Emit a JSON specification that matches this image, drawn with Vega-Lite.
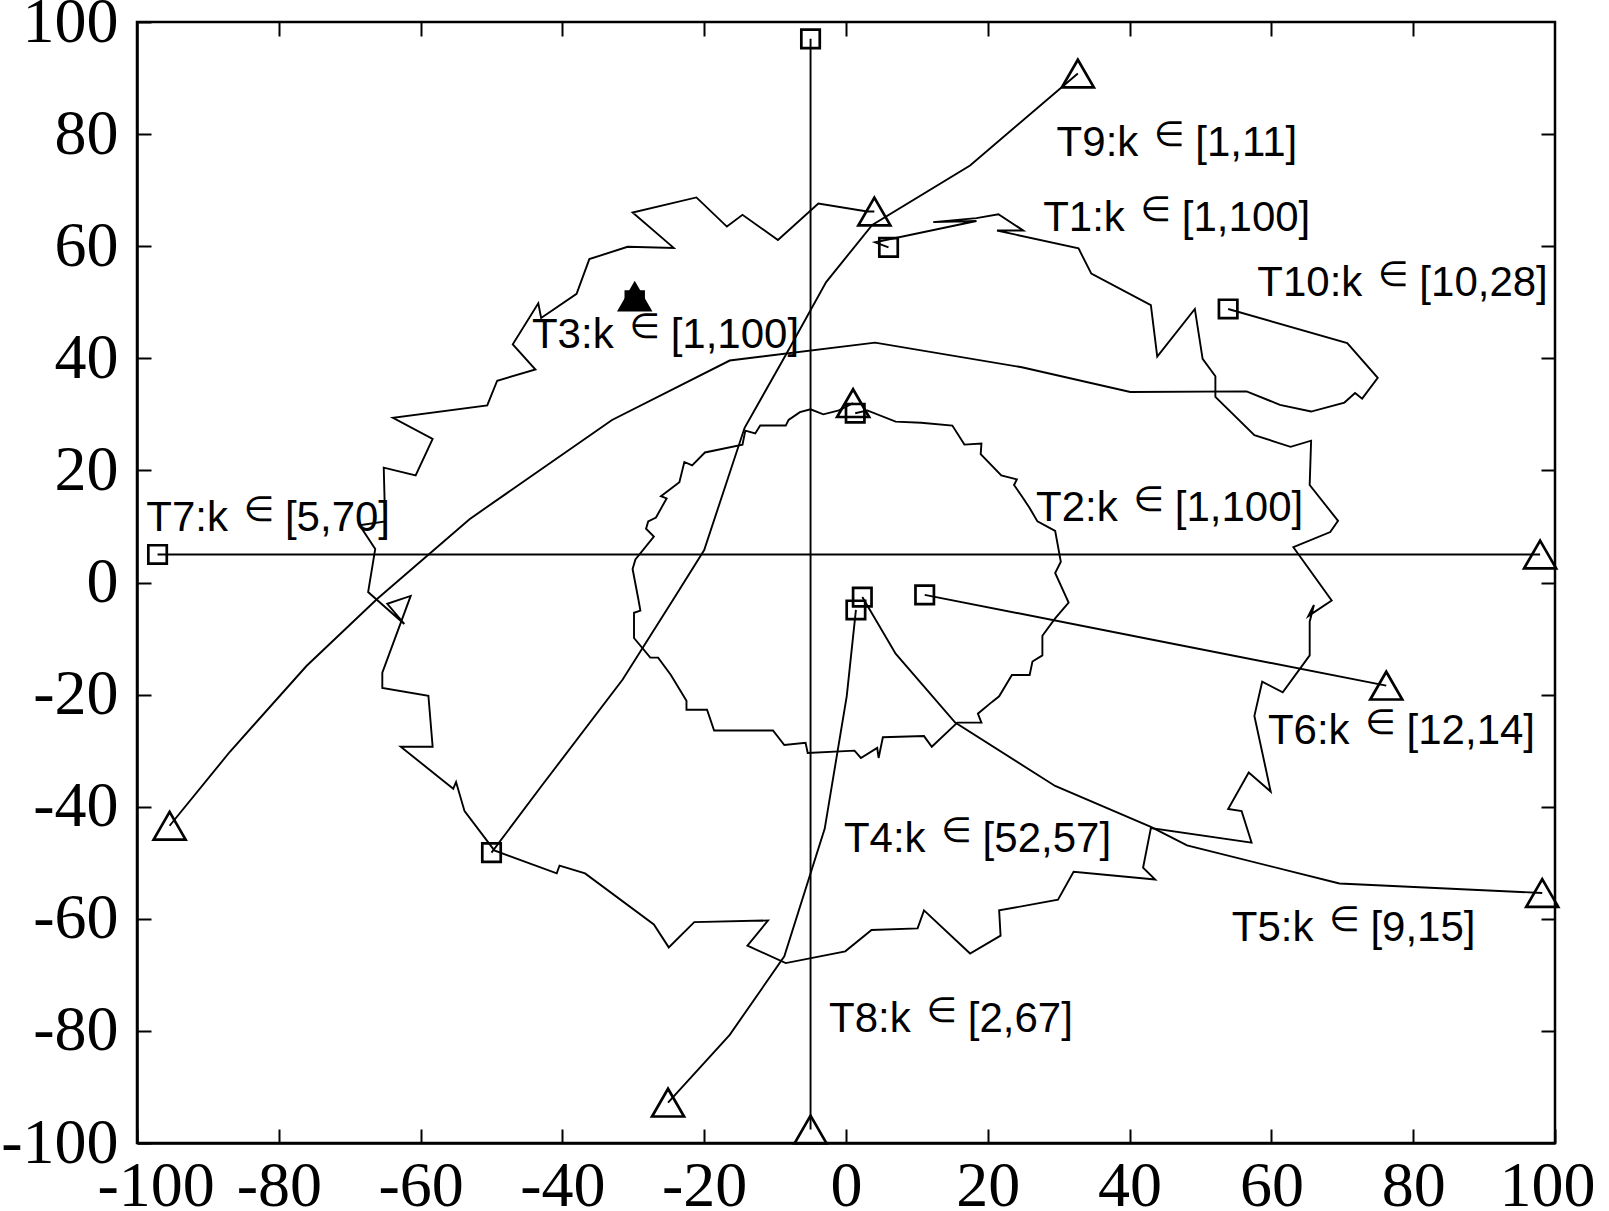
{
  "$schema": "https://vega.github.io/schema/vega-lite/v6.json",
  "width": 1418,
  "height": 1121,
  "autosize": {"type": "none"},
  "padding": {"left": 137, "top": 22, "right": 54, "bottom": 68},
  "background": "white",
  "config": {
    "view": {"stroke": "black", "strokeWidth": 2.5},
    "axis": {
      "domainColor": "black", "domainWidth": 2.5,
      "tickColor": "black", "tickWidth": 2, "tickSize": -14,
      "labelFont": "Liberation Serif", "labelFontSize": 64, "labelColor": "black",
      "grid": false, "title": null
    }
  },
  "datasets": {
    "tracks": [
      {"t":"T1","i":1,"x":6.0,"y":59.8},{"t":"T1","i":2,"x":4.1,"y":60.7},{"t":"T1","i":3,"x":18.4,"y":64.5},{"t":"T1","i":4,"x":12.3,"y":64.3},{"t":"T1","i":5,"x":18.4,"y":65.0},{"t":"T1","i":6,"x":21.5,"y":65.7},{"t":"T1","i":7,"x":25.0,"y":62.8},{"t":"T1","i":8,"x":21.3,"y":62.8},{"t":"T1","i":9,"x":32.8,"y":59.6},{"t":"T1","i":10,"x":34.6,"y":55.1},
      {"t":"T1","i":11,"x":43.0,"y":49.5},{"t":"T1","i":12,"x":43.9,"y":40.3},{"t":"T1","i":13,"x":49.2,"y":48.8},{"t":"T1","i":14,"x":50.3,"y":39.9},{"t":"T1","i":15,"x":52.1,"y":36.8},{"t":"T1","i":16,"x":52.1,"y":33.1},{"t":"T1","i":17,"x":57.6,"y":26.3},{"t":"T1","i":18,"x":62.7,"y":24.2},{"t":"T1","i":19,"x":65.6,"y":25.3},{"t":"T1","i":20,"x":65.4,"y":17.4},
      {"t":"T1","i":21,"x":69.4,"y":11.0},{"t":"T1","i":22,"x":68.3,"y":9.0},{"t":"T1","i":23,"x":63.1,"y":6.3},{"t":"T1","i":24,"x":68.5,"y":-3.2},{"t":"T1","i":25,"x":65.2,"y":-6.0},{"t":"T1","i":26,"x":66.0,"y":-4.0},{"t":"T1","i":27,"x":65.4,"y":-7.0},{"t":"T1","i":28,"x":65.4,"y":-13.0},{"t":"T1","i":29,"x":61.6,"y":-19.6},{"t":"T1","i":30,"x":58.7,"y":-17.7},
      {"t":"T1","i":31,"x":57.6,"y":-23.8},{"t":"T1","i":32,"x":59.9,"y":-37.3},{"t":"T1","i":33,"x":56.8,"y":-33.9},{"t":"T1","i":34,"x":53.9,"y":-40.4},{"t":"T1","i":35,"x":55.8,"y":-40.8},{"t":"T1","i":36,"x":57.2,"y":-46.4},{"t":"T1","i":37,"x":43.0,"y":-43.8},{"t":"T1","i":38,"x":41.9,"y":-50.9},{"t":"T1","i":39,"x":43.6,"y":-53.0},{"t":"T1","i":40,"x":32.1,"y":-51.6},
      {"t":"T1","i":41,"x":29.9,"y":-56.6},{"t":"T1","i":42,"x":21.6,"y":-58.5},{"t":"T1","i":43,"x":21.8,"y":-63.0},{"t":"T1","i":44,"x":17.5,"y":-66.2},{"t":"T1","i":45,"x":11.0,"y":-58.5},{"t":"T1","i":46,"x":10.1,"y":-61.7},{"t":"T1","i":47,"x":3.6,"y":-62.0},{"t":"T1","i":48,"x":-0.1,"y":-65.8},{"t":"T1","i":49,"x":-8.5,"y":-67.9},{"t":"T1","i":50,"x":-13.9,"y":-64.8},
      {"t":"T1","i":51,"x":-11.0,"y":-60.3},{"t":"T1","i":52,"x":-21.4,"y":-60.6},{"t":"T1","i":53,"x":-25.0,"y":-65.1},{"t":"T1","i":54,"x":-27.1,"y":-61.0},{"t":"T1","i":55,"x":-36.8,"y":-51.9},{"t":"T1","i":56,"x":-40.4,"y":-50.5},{"t":"T1","i":57,"x":-40.8,"y":-51.9},{"t":"T1","i":58,"x":-49.6,"y":-47.8},{"t":"T1","i":59,"x":-53.8,"y":-40.8},{"t":"T1","i":60,"x":-55.0,"y":-35.6},
      {"t":"T1","i":61,"x":-55.4,"y":-36.8},{"t":"T1","i":62,"x":-62.8,"y":-29.3},{"t":"T1","i":63,"x":-58.3,"y":-29.3},{"t":"T1","i":64,"x":-58.9,"y":-20.2},{"t":"T1","i":65,"x":-65.4,"y":-18.8},{"t":"T1","i":66,"x":-65.4,"y":-16.1},{"t":"T1","i":67,"x":-61.4,"y":-2.4},{"t":"T1","i":68,"x":-64.7,"y":-3.8},{"t":"T1","i":69,"x":-62.3,"y":-7.4},{"t":"T1","i":70,"x":-67.4,"y":-1.7},
      {"t":"T1","i":71,"x":-66.4,"y":6.0},{"t":"T1","i":72,"x":-68.6,"y":10.2},{"t":"T1","i":73,"x":-65.0,"y":10.9},{"t":"T1","i":74,"x":-65.2,"y":20.5},{"t":"T1","i":75,"x":-60.7,"y":19.1},{"t":"T1","i":76,"x":-58.3,"y":25.6},{"t":"T1","i":77,"x":-63.9,"y":29.4},{"t":"T1","i":78,"x":-50.6,"y":31.6},{"t":"T1","i":79,"x":-49.2,"y":36.0},{"t":"T1","i":80,"x":-43.8,"y":38.0},
      {"t":"T1","i":81,"x":-47.0,"y":42.5},{"t":"T1","i":82,"x":-43.4,"y":49.8},{"t":"T1","i":83,"x":-43.0,"y":47.2},{"t":"T1","i":84,"x":-38.0,"y":51.5},{"t":"T1","i":85,"x":-36.2,"y":57.7},{"t":"T1","i":86,"x":-30.8,"y":59.9},{"t":"T1","i":87,"x":-24.3,"y":59.7},{"t":"T1","i":88,"x":-30.1,"y":66.0},{"t":"T1","i":89,"x":-21.1,"y":68.7},{"t":"T1","i":90,"x":-16.8,"y":63.5},
      {"t":"T1","i":91,"x":-14.6,"y":65.6},{"t":"T1","i":92,"x":-9.6,"y":61.1},{"t":"T1","i":93,"x":-3.9,"y":67.6},{"t":"T1","i":94,"x":3.0,"y":66.2},{"t":"T1","i":95,"x":4.0,"y":66.2},

      {"t":"T2","i":1,"x":1.3,"y":30.2},{"t":"T2","i":2,"x":3.0,"y":30.7},{"t":"T2","i":3,"x":7.0,"y":28.7},{"t":"T2","i":4,"x":10.6,"y":28.5},{"t":"T2","i":5,"x":15.0,"y":28.0},{"t":"T2","i":6,"x":16.7,"y":24.6},{"t":"T2","i":7,"x":19.1,"y":24.8},{"t":"T2","i":8,"x":19.0,"y":22.9},{"t":"T2","i":9,"x":21.9,"y":19.1},{"t":"T2","i":10,"x":24.1,"y":18.4},
      {"t":"T2","i":11,"x":23.7,"y":17.4},{"t":"T2","i":12,"x":24.8,"y":15.4},{"t":"T2","i":13,"x":25.9,"y":13.3},{"t":"T2","i":14,"x":27.0,"y":10.9},{"t":"T2","i":15,"x":29.5,"y":9.2},{"t":"T2","i":16,"x":30.3,"y":3.7},{"t":"T2","i":17,"x":29.5,"y":1.7},{"t":"T2","i":18,"x":31.4,"y":-3.6},{"t":"T2","i":19,"x":29.5,"y":-6.4},{"t":"T2","i":20,"x":27.7,"y":-9.5},
      {"t":"T2","i":21,"x":27.7,"y":-13.0},{"t":"T2","i":22,"x":26.3,"y":-14.1},{"t":"T2","i":23,"x":25.9,"y":-16.5},{"t":"T2","i":24,"x":23.4,"y":-16.5},{"t":"T2","i":25,"x":21.6,"y":-20.3},{"t":"T2","i":26,"x":20.6,"y":-21.3},{"t":"T2","i":27,"x":18.6,"y":-23.4},{"t":"T2","i":28,"x":19.1,"y":-25.0},{"t":"T2","i":29,"x":15.7,"y":-25.0},{"t":"T2","i":30,"x":12.1,"y":-29.3},
      {"t":"T2","i":31,"x":11.0,"y":-27.4},{"t":"T2","i":32,"x":5.2,"y":-27.6},{"t":"T2","i":33,"x":4.6,"y":-31.3},{"t":"T2","i":34,"x":4.4,"y":-29.5},{"t":"T2","i":35,"x":2.1,"y":-31.3},{"t":"T2","i":36,"x":1.2,"y":-30.0},{"t":"T2","i":37,"x":-5.4,"y":-30.4},{"t":"T2","i":38,"x":-5.7,"y":-28.6},{"t":"T2","i":39,"x":-8.7,"y":-29.0},{"t":"T2","i":40,"x":-10.3,"y":-26.4},
      {"t":"T2","i":41,"x":-18.6,"y":-26.4},{"t":"T2","i":42,"x":-19.6,"y":-22.7},{"t":"T2","i":43,"x":-22.5,"y":-22.7},{"t":"T2","i":44,"x":-22.5,"y":-21.1},{"t":"T2","i":45,"x":-24.7,"y":-16.5},{"t":"T2","i":46,"x":-26.5,"y":-13.4},{"t":"T2","i":47,"x":-27.6,"y":-13.4},{"t":"T2","i":48,"x":-29.9,"y":-9.9},{"t":"T2","i":49,"x":-29.9,"y":-5.4},{"t":"T2","i":50,"x":-29.0,"y":-5.0},
      {"t":"T2","i":51,"x":-29.3,"y":-2.9},{"t":"T2","i":52,"x":-30.1,"y":2.4},{"t":"T2","i":53,"x":-29.7,"y":4.1},{"t":"T2","i":54,"x":-27.1,"y":8.2},{"t":"T2","i":55,"x":-28.2,"y":9.6},{"t":"T2","i":56,"x":-27.9,"y":10.9},{"t":"T2","i":57,"x":-26.8,"y":11.6},{"t":"T2","i":58,"x":-25.3,"y":15.0},{"t":"T2","i":59,"x":-26.1,"y":15.4},{"t":"T2","i":60,"x":-23.5,"y":17.9},
      {"t":"T2","i":61,"x":-22.8,"y":21.5},{"t":"T2","i":62,"x":-21.7,"y":20.9},{"t":"T2","i":63,"x":-19.9,"y":23.2},{"t":"T2","i":64,"x":-14.6,"y":24.6},{"t":"T2","i":65,"x":-14.2,"y":27.1},{"t":"T2","i":66,"x":-12.8,"y":26.6},{"t":"T2","i":67,"x":-12.1,"y":28.0},{"t":"T2","i":68,"x":-8.5,"y":28.0},{"t":"T2","i":69,"x":-8.1,"y":29.0},{"t":"T2","i":70,"x":-6.5,"y":30.4},
      {"t":"T2","i":71,"x":-5.0,"y":30.9},{"t":"T2","i":72,"x":-3.2,"y":30.0},{"t":"T2","i":73,"x":-1.0,"y":30.7},{"t":"T2","i":74,"x":1.0,"y":32.0},

      {"t":"T4","i":1,"x":1.4,"y":-4.9},{"t":"T4","i":2,"x":0.1,"y":-20.3},{"t":"T4","i":3,"x":-3.0,"y":-43.9},{"t":"T4","i":4,"x":-8.7,"y":-66.7},{"t":"T4","i":5,"x":-16.4,"y":-80.7},{"t":"T4","i":6,"x":-25.1,"y":-92.8},

      {"t":"T5","i":1,"x":2.3,"y":-2.6},{"t":"T5","i":2,"x":7.0,"y":-12.7},{"t":"T5","i":3,"x":15.4,"y":-25.0},{"t":"T5","i":4,"x":29.5,"y":-36.3},{"t":"T5","i":5,"x":43.0,"y":-43.6},{"t":"T5","i":6,"x":48.1,"y":-46.9},{"t":"T5","i":7,"x":69.6,"y":-53.7},{"t":"T5","i":8,"x":98.2,"y":-55.4},

      {"t":"T6","i":1,"x":11.1,"y":-2.2},{"t":"T6","i":2,"x":43.6,"y":-10.3},{"t":"T6","i":3,"x":76.2,"y":-18.4},

      {"t":"T7","i":1,"x":-97.1,"y":5.0},{"t":"T7","i":2,"x":97.9,"y":5.0},

      {"t":"T8","i":1,"x":-5.0,"y":97.0},{"t":"T8","i":2,"x":-5.0,"y":-97.6},

      {"t":"T9","i":1,"x":-50.0,"y":-48.2},{"t":"T9","i":2,"x":-43.0,"y":-36.4},{"t":"T9","i":3,"x":-31.5,"y":-17.3},{"t":"T9","i":4,"x":-24.3,"y":-2.9},{"t":"T9","i":5,"x":-20.0,"y":5.8},{"t":"T9","i":6,"x":-14.3,"y":27.6},{"t":"T9","i":7,"x":-8.5,"y":40.6},{"t":"T9","i":8,"x":-2.8,"y":53.6},{"t":"T9","i":9,"x":3.7,"y":63.8},{"t":"T9","i":10,"x":17.5,"y":74.4},{"t":"T9","i":11,"x":32.7,"y":90.8},

      {"t":"T10","i":1,"x":53.9,"y":48.8},{"t":"T10","i":2,"x":70.7,"y":42.7},{"t":"T10","i":3,"x":75.0,"y":36.5},{"t":"T10","i":4,"x":72.8,"y":32.8},{"t":"T10","i":5,"x":71.8,"y":33.8},{"t":"T10","i":6,"x":70.3,"y":32.1},{"t":"T10","i":7,"x":65.6,"y":30.5},{"t":"T10","i":8,"x":61.2,"y":31.7},{"t":"T10","i":9,"x":56.5,"y":34.1},{"t":"T10","i":10,"x":40.1,"y":34.0},
      {"t":"T10","i":11,"x":24.8,"y":38.4},{"t":"T10","i":12,"x":4.1,"y":42.8},{"t":"T10","i":13,"x":-16.4,"y":39.6},{"t":"T10","i":14,"x":-33.0,"y":29.0},{"t":"T10","i":15,"x":-53.1,"y":11.3},{"t":"T10","i":16,"x":-66.1,"y":-2.9},{"t":"T10","i":17,"x":-76.1,"y":-14.9},{"t":"T10","i":18,"x":-86.9,"y":-30.2},{"t":"T10","i":19,"x":-95.4,"y":-43.4}
    ],
    "markers": [
      {"t":"T1","kind":"start","x":6.0,"y":59.8},{"t":"T1","kind":"end","x":4.0,"y":66.2},
      {"t":"T2","kind":"start","x":1.3,"y":30.2},{"t":"T2","kind":"end","x":1.0,"y":32.0},
      {"t":"T3","kind":"start","x":-29.8,"y":50.3},{"t":"T3","kind":"end","x":-29.8,"y":51.0},
      {"t":"T4","kind":"start","x":1.4,"y":-4.9},{"t":"T4","kind":"end","x":-25.1,"y":-92.8},
      {"t":"T5","kind":"start","x":2.3,"y":-2.6},{"t":"T5","kind":"end","x":98.2,"y":-55.4},
      {"t":"T6","kind":"start","x":11.1,"y":-2.2},{"t":"T6","kind":"end","x":76.2,"y":-18.4},
      {"t":"T7","kind":"start","x":-97.1,"y":5.0},{"t":"T7","kind":"end","x":97.9,"y":5.0},
      {"t":"T8","kind":"start","x":-5.0,"y":97.0},{"t":"T8","kind":"end","x":-5.0,"y":-97.6},
      {"t":"T9","kind":"start","x":-50.0,"y":-48.2},{"t":"T9","kind":"end","x":32.7,"y":90.8},
      {"t":"T10","kind":"start","x":53.9,"y":48.8},{"t":"T10","kind":"end","x":-95.4,"y":-43.4}
    ],
    "labels": [
      {"t":"T9","pre":"T9:k","rng":"[1,11]","x":45.6,"y":76.1},
      {"t":"T1","pre":"T1:k","rng":"[1,100]","x":43.7,"y":62.8},
      {"t":"T10","pre":"T10:k","rng":"[10,28]","x":77.2,"y":51.2},
      {"t":"T3","pre":"T3:k","rng":"[1,100]","x":-28.4,"y":41.8},
      {"t":"T7","pre":"T7:k","rng":"[5,70]","x":-82.8,"y":9.2},
      {"t":"T2","pre":"T2:k","rng":"[1,100]","x":42.7,"y":10.9},
      {"t":"T6","pre":"T6:k","rng":"[12,14]","x":75.4,"y":-28.8},
      {"t":"T4","pre":"T4:k","rng":"[52,57]","x":15.6,"y":-48.1},
      {"t":"T5","pre":"T5:k","rng":"[9,15]","x":70.3,"y":-63.9},
      {"t":"T8","pre":"T8:k","rng":"[2,67]","x":13.5,"y":-80.2}
    ]
  },
  "layer": [
    {
      "data": {"name": "tracks"},
      "mark": {"type": "line", "color": "black", "strokeWidth": 1.9, "strokeJoin": "miter"},
      "encoding": {
        "x": {"field": "x", "type": "quantitative", "scale": {"domain": [-100, 100], "nice": false, "zero": false},
              "axis": {"orient": "bottom", "values": [-100,-80,-60,-40,-20,0,20,40,60,80,100], "labelPadding": 25, "labelFlushOffset": 40, "labelExpr": "'' + datum.value"}},
        "y": {"field": "y", "type": "quantitative", "scale": {"domain": [-100, 100], "nice": false, "zero": false},
              "axis": {"orient": "left", "values": [-100,-80,-60,-40,-20,0,20,40,60,80,100], "labelPadding": 33, "labelFlush": false, "labelExpr": "'' + datum.value"}},
        "detail": {"field": "t"},
        "order": {"field": "i", "type": "quantitative"}
      }
    },
    {
      "data": {"name": "markers"},
      "transform": [{"filter": "datum.t !== 'T3'"}],
      "mark": {"type": "point", "filled": false, "stroke": "black", "strokeWidth": 2.7, "opacity": 1},
      "encoding": {
        "x": {"field": "x", "type": "quantitative", "axis": {"orient": "top", "labels": false, "domain": false, "values": [-80,-60,-40,-20,0,20,40,60,80]}},
        "y": {"field": "y", "type": "quantitative", "axis": {"orient": "right", "labels": false, "domain": false, "values": [-80,-60,-40,-20,0,20,40,60,80]}},
        "shape": {"field": "kind", "type": "nominal", "scale": {"domain": ["start", "end"], "range": ["square", "triangle-up"]}, "legend": null},
        "size": {"field": "kind", "type": "nominal", "scale": {"domain": ["start", "end"], "range": [340, 1024]}, "legend": null}
      }
    },
    {
      "data": {"name": "markers"},
      "transform": [{"filter": "datum.t === 'T3'"}],
      "mark": {"type": "point", "filled": true, "fill": "black", "stroke": "black", "strokeWidth": 2, "opacity": 1},
      "encoding": {
        "x": {"field": "x", "type": "quantitative", "axis": null},
        "y": {"field": "y", "type": "quantitative", "axis": null},
        "shape": {"field": "kind", "type": "nominal", "scale": {"domain": ["start", "end"], "range": ["square", "triangle-up"]}, "legend": null},
        "size": {"field": "kind", "type": "nominal", "scale": {"domain": ["start", "end"], "range": [300, 560]}, "legend": null}
      }
    },
    {
      "data": {"name": "labels"},
      "mark": {"type": "text", "align": "right", "baseline": "alphabetic", "dx": -31, "font": "Liberation Sans", "fontSize": 42, "color": "black"},
      "encoding": {
        "x": {"field": "x", "type": "quantitative", "axis": null},
        "y": {"field": "y", "type": "quantitative", "axis": null},
        "text": {"field": "pre"}
      }
    },
    {
      "data": {"name": "labels"},
      "mark": {"type": "text", "align": "center", "baseline": "alphabetic", "dy": -10, "font": "DejaVu Sans", "fontSize": 35, "color": "black", "text": "∈"},
      "encoding": {
        "x": {"field": "x", "type": "quantitative", "axis": null},
        "y": {"field": "y", "type": "quantitative", "axis": null}
      }
    },
    {
      "data": {"name": "labels"},
      "mark": {"type": "text", "align": "left", "baseline": "alphabetic", "dx": 26, "font": "Liberation Sans", "fontSize": 42, "color": "black"},
      "encoding": {
        "x": {"field": "x", "type": "quantitative", "axis": null},
        "y": {"field": "y", "type": "quantitative", "axis": null},
        "text": {"field": "rng"}
      }
    }
  ],
  "resolve": {"axis": {"x": "independent", "y": "independent"}}
}
